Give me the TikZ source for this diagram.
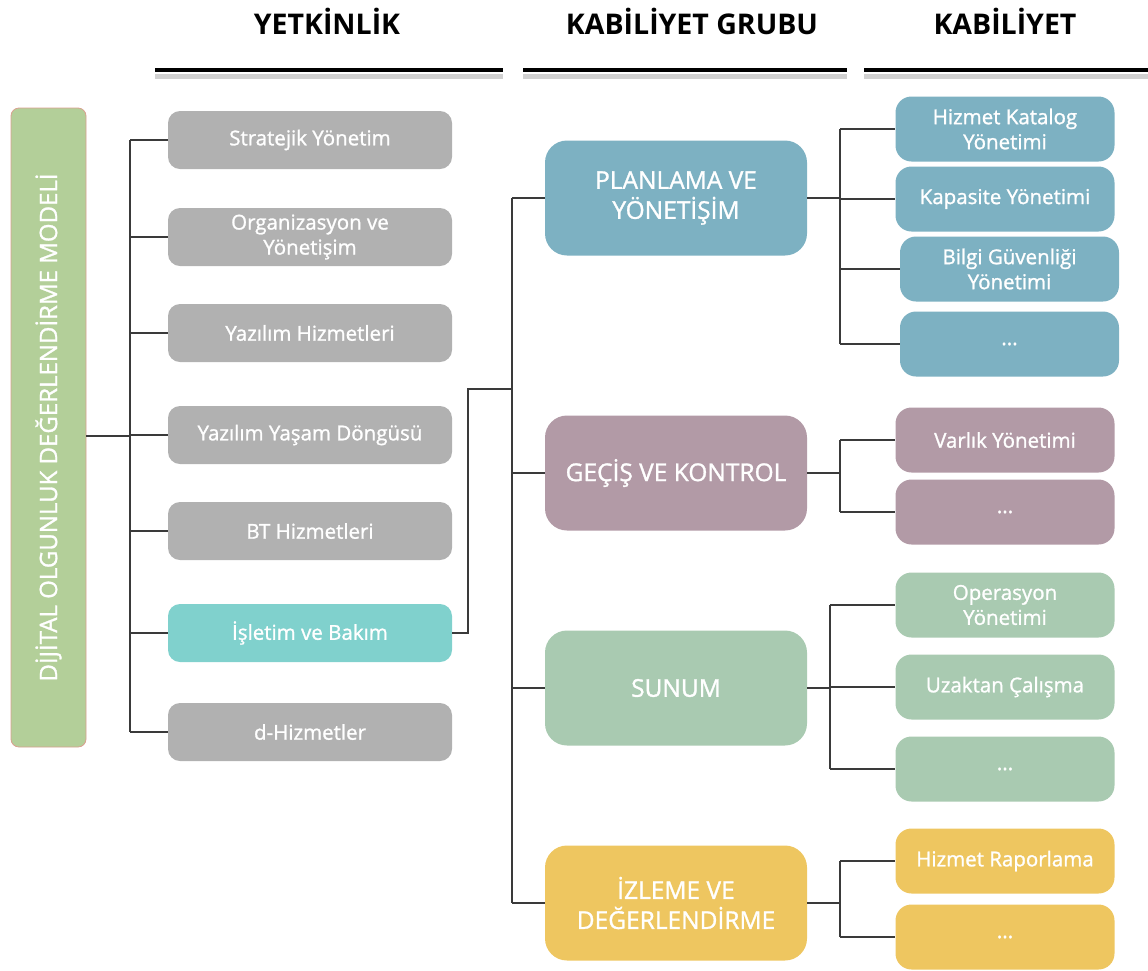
\documentclass[tikz,border=0pt]{standalone}
\usepackage{fontspec}
\setmainfont{Open Sans}
\newfontfamily\semib[FakeBold=1.2]{Open Sans}
\usetikzlibrary{positioning}

\definecolor{modelgreen}{HTML}{B3CF99}
\definecolor{modeledge}{HTML}{D9A08F}
\definecolor{yetgray}{HTML}{B1B1B1}
\definecolor{yetteal}{HTML}{80D1CD}
\definecolor{plnblue}{HTML}{7DB1C2}
\definecolor{gecmauve}{HTML}{B29AA6}
\definecolor{sungreen}{HTML}{A9CAB1}
\definecolor{izlyellow}{HTML}{EEC660}
\definecolor{linkgray}{HTML}{3A3A3A}

\begin{document}
\begin{tikzpicture}[x=1pt,y=-1pt,
  yet/.style={fill=yetgray, rounded corners=12pt, minimum width=284pt, minimum height=58pt, inner sep=0pt,
    text=white, align=center, font=\semib\fontsize{20.5}{25}\selectfont},
  grp/.style={rounded corners=22pt, minimum width=262pt, minimum height=115pt, inner sep=0pt,
    text=white, align=center, font=\semib\fontsize{24.5}{30}\selectfont},
  kab/.style={rounded corners=16pt, minimum width=219pt, minimum height=65pt, inner sep=0pt,
    text=white, align=center, font=\semib\fontsize{20.5}{25}\selectfont},
  link/.style={draw=linkgray, line width=2pt},
  head/.style={font=\bfseries\fontsize{28.5}{32}\selectfont},
  rule/.style={line width=4pt, black}
]
\useasboundingbox (0,0) rectangle (1148,970);

\node[head] (hyet) at (327,21) {YETKİNLİK};
\node[head] (hgrp) at (692,21) {KABİLİYET GRUBU};
\node[head] (hkab) at (1005,21) {KABİLİYET};
\foreach \a/\b in {155/503,523/847,864/1148}{
  \draw[line width=5pt, black!18] (\a,76) -- (\b,76);
  \draw[rule] (\a,70) -- (\b,70);
}

\node[fill=modelgreen, draw=modeledge, line width=0.8pt, rounded corners=8pt, minimum width=75pt, minimum height=639pt,
  inner sep=0pt] (model) at (48.5,427.5) {};
\node[rotate=90, text=white, font=\semib\fontsize{24}{28}\selectfont] (modeltxt) at (model.center) {DİJİTAL OLGUNLUK DEĞERLENDİRME MODELİ};

\node[yet] (s1) at (310,140) {Stratejik Yönetim};
\node[yet] (s2) at (310,237) {Organizasyon ve\\Yönetişim};
\node[yet] (s3) at (310,333) {Yazılım Hizmetleri};
\node[yet] (s4) at (310,435) {Yazılım Yaşam Döngüsü};
\node[yet] (s5) at (310,531) {BT Hizmetleri};
\node[yet, fill=yetteal] (s6) at (310,633) {İşletim ve Bakım};
\node[yet] (s7) at (310,732) {d-Hizmetler};

\coordinate (t1) at (130,436);
\draw[link] (model.east |- t1) -- (t1);
\draw[link] (s1.west -| t1) -- (s7.west -| t1);
\foreach \s in {s1,s2,s3,s4,s5,s6,s7}
  \draw[link] (\s.west -| t1) -- (\s.west);

\node[grp, fill=plnblue] (g1) at (676,198) {PLANLAMA VE\\YÖNETİŞİM};
\node[grp, fill=gecmauve] (g2) at (676,473) {GEÇİŞ VE KONTROL};
\node[grp, fill=sungreen] (g3) at (676,688) {SUNUM};
\node[grp, fill=izlyellow] (g4) at (676,903) {İZLEME VE\\DEĞERLENDİRME};

\coordinate (t2) at (512,389);
\draw[link] (s6.east) -- ++(16,0) |- (t2);
\draw[link] (g1.west -| t2) -- (g4.west -| t2);
\foreach \g in {g1,g2,g3,g4}
  \draw[link] (\g.west -| t2) -- (\g.west);

\node[kab, fill=plnblue] (k11) at (1005,129) {Hizmet Katalog\\Yönetimi};
\node[kab, fill=plnblue] (k12) at (1005,199) {Kapasite Yönetimi};
\node[kab, fill=plnblue] (k13) at (1009.5,269) {Bilgi Güvenliği\\Yönetimi};
\node[kab, fill=plnblue] (k14) at (1009.5,344) {...};

\node[kab, fill=gecmauve] (k21) at (1005,440) {Varlık Yönetimi};
\node[kab, fill=gecmauve] (k22) at (1005,512) {...};

\node[kab, fill=sungreen] (k31) at (1005,605) {Operasyon\\Yönetimi};
\node[kab, fill=sungreen] (k32) at (1005,687) {Uzaktan Çalışma};
\node[kab, fill=sungreen] (k33) at (1005,769) {...};

\node[kab, fill=izlyellow] (k41) at (1005,861) {Hizmet Raporlama};
\node[kab, fill=izlyellow] (k42) at (1005,937) {...};

\foreach \g/\x/\first/\last/\list in {g1/840/k11/k14/{k11,k12,k13,k14},g2/840/k21/k22/{k21,k22},
    g3/830/k31/k33/{k31,k32,k33},g4/840/k41/k42/{k41,k42}}{
  \coordinate (b\g) at (\x,0);
  \draw[link] (\g.east) -- (\g.east -| b\g);
  \draw[link] (\first.west -| b\g) -- (\last.west -| b\g);
  \foreach \k in \list
    \draw[link] (\k.west -| b\g) -- (\k.west);
}
\end{tikzpicture}
\end{document}
